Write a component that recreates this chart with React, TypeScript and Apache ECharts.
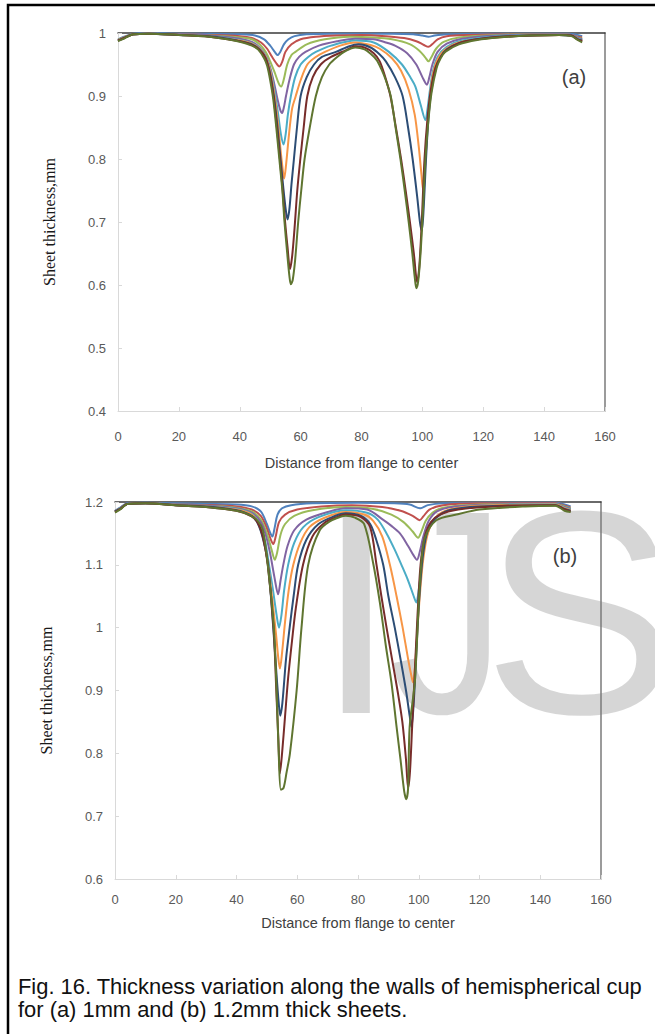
import React, { useEffect, useRef } from "react";
import * as echarts from "echarts";

// ---------- data: chart (a) 1mm sheet ----------
const A_BLUE = [[0,0.99],[2,0.994],[5,0.999],[10,1.0],[20,0.999],[30,0.999],[40,0.998],[45,0.996],[48,0.99],[50,0.98],[51.5,0.97],[52.4,0.965],[53.3,0.97],[54.5,0.982],[56,0.99],[58,0.995],[62,0.998],[70,0.999],[80,0.999],[90,0.999],[97,0.998],[100,0.996],[102,0.994],[104,0.996],[108,0.998],[120,0.999],[135,0.999],[148,0.999],[151,0.997],[152.5,0.995]];
const A_RED = [[0,0.989],[2,0.993],[5,0.998],[10,0.999],[20,0.998],[30,0.997],[40,0.995],[44,0.992],[47,0.985],[49,0.975],[50.5,0.963],[52,0.952],[53,0.947],[54,0.955],[55,0.97],[57,0.982],[60,0.99],[65,0.994],[72,0.996],[80,0.997],[88,0.995],[94,0.992],[98,0.987],[100.5,0.981],[102,0.978],[103.2,0.982],[105,0.99],[108,0.995],[115,0.997],[130,0.998],[145,0.998],[149,0.997],[151,0.994],[152.5,0.993]];
const A_GREEN = [[0,0.989],[2,0.993],[5,0.998],[10,0.999],[20,0.998],[30,0.996],[40,0.993],[44,0.99],[46.5,0.982],[48.5,0.97],[50,0.955],[51.5,0.937],[52.8,0.92],[53.6,0.915],[54.4,0.925],[55.6,0.95],[57,0.965],[58.3,0.97],[62,0.982],[68,0.99],[76,0.994],[84,0.993],[90,0.99],[96,0.982],[99,0.972],[101,0.961],[102,0.955],[103,0.962],[104.5,0.975],[107,0.986],[112,0.993],[125,0.997],[145,0.998],[149,0.997],[151,0.993],[152.5,0.991]];
const A_PURPLE = [[0,0.988],[2,0.992],[5,0.998],[10,0.999],[20,0.998],[30,0.996],[40,0.991],[44,0.986],[46.5,0.977],[48.5,0.964],[50,0.945],[51.3,0.92],[52.5,0.893],[53.3,0.878],[53.9,0.873],[54.5,0.882],[55.2,0.9],[56.3,0.925],[57.8,0.95],[59.5,0.962],[61.6,0.97],[66,0.98],[72,0.987],[78,0.991],[84,0.99],[88,0.985],[91,0.98],[95,0.968],[98,0.95],[100,0.93],[101.5,0.918],[102.3,0.93],[103.3,0.95],[105,0.97],[108,0.983],[113,0.991],[125,0.996],[145,0.998],[149,0.997],[151,0.992],[152.5,0.99]];
const A_AQUA = [[0,0.988],[2,0.992],[5,0.998],[10,0.999],[20,0.997],[30,0.995],[40,0.989],[44,0.984],[46.5,0.976],[48.5,0.963],[50,0.942],[51.3,0.912],[52.5,0.875],[53.5,0.84],[54.4,0.823],[55.1,0.84],[55.8,0.87],[56.8,0.9],[58.2,0.93],[60,0.95],[62.5,0.962],[65,0.97],[70,0.98],[78,0.988],[84,0.985],[89,0.97],[93.3,0.95],[96,0.93],[97.7,0.915],[99.5,0.885],[101,0.862],[101.7,0.88],[102.5,0.91],[103.5,0.94],[105,0.962],[108,0.978],[113,0.988],[125,0.995],[145,0.997],[149,0.996],[151,0.991],[152.5,0.989]];
const A_ORANGE = [[0,0.988],[2,0.992],[5,0.998],[10,0.999],[20,0.997],[30,0.995],[40,0.988],[44,0.983],[46.5,0.975],[48.5,0.962],[50,0.94],[51.3,0.905],[52.5,0.86],[53.5,0.81],[54.2,0.78],[54.6,0.769],[55.2,0.79],[56.2,0.84],[57.2,0.88],[58.4,0.9],[60,0.925],[62.2,0.95],[65,0.962],[68,0.97],[73,0.98],[78,0.985],[83,0.981],[86,0.975],[90,0.96],[93,0.94],[95.5,0.91],[97.5,0.87],[98.8,0.82],[99.7,0.775],[100.2,0.752],[100.8,0.78],[101.5,0.84],[102.3,0.89],[103.3,0.93],[104.7,0.955],[107,0.972],[112,0.985],[120,0.991],[135,0.996],[147,0.997],[149.5,0.995],[151,0.99],[152.5,0.988]];
const A_DBLUE = [[0,0.988],[2,0.992],[5,0.998],[10,0.999],[20,0.997],[30,0.995],[36,0.991],[40,0.987],[44,0.982],[46.5,0.974],[48.5,0.96],[50,0.935],[51.2,0.9],[52.3,0.855],[53.3,0.805],[54.3,0.755],[55.1,0.72],[55.7,0.704],[56.3,0.72],[57,0.76],[57.8,0.8],[58.8,0.85],[60,0.9],[62,0.93],[64.4,0.95],[67,0.962],[71.6,0.97],[76,0.979],[79,0.982],[83,0.977],[86,0.966],[88,0.955],[91,0.93],[93.5,0.9],[95.3,0.85],[96.8,0.8],[98.3,0.74],[99.2,0.7],[99.8,0.686],[100.4,0.72],[101.2,0.8],[102,0.865],[103,0.91],[104.5,0.945],[106,0.962],[108,0.974],[112,0.984],[118,0.99],[130,0.995],[145,0.997],[149,0.996],[151,0.99],[152.5,0.988]];
const A_DRED = [[0,0.988],[2,0.992],[5,0.998],[10,0.999],[20,0.997],[30,0.994],[36,0.99],[40,0.987],[44,0.981],[46.5,0.973],[48.5,0.96],[50,0.932],[51.2,0.895],[52.2,0.85],[53.2,0.8],[54.1,0.75],[54.9,0.7],[55.7,0.66],[56.5,0.625],[57.2,0.645],[58,0.69],[58.9,0.75],[59.9,0.8],[61,0.85],[62.2,0.9],[64,0.93],[66.6,0.95],[70,0.962],[74.6,0.972],[78,0.979],[81,0.977],[84,0.968],[86,0.955],[87.8,0.93],[89.5,0.9],[91.3,0.85],[93,0.8],[94.5,0.75],[95.9,0.7],[97.2,0.65],[98.3,0.604],[99,0.63],[99.8,0.7],[100.7,0.8],[101.7,0.865],[102.8,0.91],[104.3,0.945],[106,0.962],[108,0.973],[112,0.984],[118,0.99],[125,0.994],[135,0.996],[145,0.997],[149,0.996],[151,0.99],[152.5,0.987]];
const A_DGREEN = [[0,0.987],[2,0.991],[5,0.998],[10,0.999],[20,0.997],[30,0.994],[36,0.99],[40,0.986],[44,0.98],[46,0.974],[48,0.96],[49,0.948],[50,0.925],[51,0.895],[52,0.85],[53,0.8],[54,0.75],[54.7,0.7],[55.6,0.65],[56.3,0.615],[56.8,0.601],[57.4,0.608],[58.2,0.64],[59.2,0.7],[60.2,0.75],[61.3,0.8],[63,0.85],[65,0.9],[67,0.93],[69.4,0.95],[72,0.962],[75,0.972],[78,0.977],[81,0.974],[83,0.967],[85,0.957],[86.5,0.943],[88,0.925],[89.6,0.9],[91.2,0.85],[92.8,0.8],[94.2,0.75],[95.5,0.7],[96.7,0.65],[97.5,0.612],[98,0.595],[98.6,0.605],[99.4,0.65],[100.2,0.72],[101,0.8],[102,0.862],[103,0.905],[104.7,0.945],[106,0.96],[107.5,0.97],[112,0.982],[118,0.989],[125,0.993],[135,0.996],[145,0.997],[149,0.995],[151,0.989],[152.5,0.985]];

// ---------- data: chart (b) 1.2mm sheet ----------
const B_BLUE = [[0,1.186],[2,1.192],[4,1.198],[10,1.199],[20,1.198],[30,1.197],[40,1.196],[45,1.193],[48,1.185],[50,1.165],[51,1.152],[51.8,1.145],[52.6,1.16],[53.5,1.18],[55,1.19],[58,1.195],[65,1.198],[80,1.199],[92,1.198],[97,1.196],[100.5,1.19],[103,1.195],[108,1.198],[125,1.199],[145,1.199],[148,1.196],[150,1.193]];
const B_RED = [[0,1.185],[2,1.191],[4,1.197],[10,1.198],[20,1.196],[30,1.195],[40,1.193],[45,1.188],[48,1.178],[50,1.158],[51.3,1.14],[52.1,1.133],[52.9,1.145],[54,1.168],[56,1.18],[60,1.188],[68,1.193],[78,1.195],[88,1.192],[94,1.186],[98,1.178],[100.3,1.171],[101.5,1.177],[103.5,1.188],[108,1.195],[120,1.198],[145,1.198],[148,1.194],[150,1.191]];
const B_GREEN = [[0,1.185],[2,1.191],[4,1.197],[10,1.198],[20,1.196],[30,1.194],[40,1.191],[45,1.185],[48,1.172],[50,1.15],[51.5,1.125],[52.6,1.108],[53.4,1.12],[54.5,1.148],[56,1.165],[59,1.178],[65,1.187],[76,1.192],[85,1.189],[91,1.18],[95,1.168],[98,1.153],[99.8,1.143],[100.8,1.152],[102.3,1.17],[104.5,1.183],[108,1.191],[120,1.196],[145,1.197],[148,1.193],[150,1.19]];
const B_PURPLE = [[0,1.185],[2,1.191],[4,1.197],[10,1.198],[20,1.196],[30,1.194],[40,1.19],[45,1.183],[48,1.168],[49.5,1.15],[51,1.12],[52.5,1.08],[53.7,1.053],[54.5,1.075],[55.4,1.1],[56.8,1.13],[59,1.155],[63,1.172],[70,1.184],[76,1.19],[83,1.188],[88.2,1.172],[91,1.162],[93.8,1.15],[96.5,1.13],[98.3,1.115],[99.4,1.108],[100.3,1.12],[101.5,1.145],[103.3,1.17],[106,1.185],[112,1.193],[125,1.196],[145,1.197],[148,1.192],[150,1.189]];
const B_AQUA = [[0,1.185],[2,1.191],[4,1.197],[10,1.198],[20,1.195],[30,1.193],[40,1.189],[45,1.181],[47.5,1.165],[49.3,1.14],[50.7,1.1],[52,1.06],[53.2,1.02],[54,1.0],[54.8,1.02],[55.7,1.06],[57,1.1],[59,1.135],[62,1.16],[67,1.176],[76,1.187],[83,1.183],[86.5,1.172],[89.4,1.15],[92,1.125],[94.3,1.1],[96.5,1.075],[98.2,1.052],[99.2,1.04],[100,1.06],[101,1.1],[102.3,1.14],[104.5,1.168],[108,1.183],[115,1.192],[130,1.196],[145,1.197],[148,1.191],[150,1.188]];
const B_ORANGE = [[0,1.185],[2,1.19],[4,1.197],[10,1.198],[20,1.195],[30,1.193],[40,1.188],[45,1.18],[47.3,1.165],[48.9,1.14],[50.4,1.1],[51.9,1.04],[53,0.99],[53.8,0.95],[54.3,0.935],[55,0.96],[56,1.01],[57.2,1.06],[58.7,1.1],[61,1.135],[64,1.16],[69,1.175],[76,1.184],[82,1.18],[85,1.17],[88,1.145],[90.5,1.1],[92.7,1.05],[94.7,1.0],[96.5,0.95],[97.5,0.925],[98.1,0.913],[98.8,0.94],[99.6,1.0],[100.5,1.06],[101.5,1.11],[103,1.15],[105.5,1.175],[110,1.188],[120,1.194],[145,1.196],[148,1.19],[150,1.187]];
const B_DBLUE = [[0,1.185],[2,1.19],[4,1.197],[10,1.198],[20,1.195],[30,1.193],[40,1.187],[45,1.178],[47.1,1.165],[48.8,1.14],[50.4,1.1],[52.1,1.0],[53.1,0.93],[53.9,0.88],[54.4,0.86],[55.1,0.88],[56.3,0.95],[57.5,1.0],[58.8,1.05],[60.3,1.1],[63,1.14],[67,1.165],[72,1.177],[76,1.182],[81,1.178],[84,1.165],[86,1.14],[88.3,1.1],[90,1.05],[92.1,1.0],[94,0.95],[95.8,0.9],[97,0.86],[97.6,0.842],[98.2,0.87],[98.8,0.92],[99.6,1.0],[100.5,1.07],[101.5,1.12],[103,1.155],[105.5,1.174],[110,1.187],[120,1.193],[145,1.195],[148,1.189],[150,1.186]];
const B_DRED = [[0,1.184],[2,1.19],[4,1.197],[10,1.198],[20,1.195],[30,1.192],[40,1.186],[45,1.177],[47,1.167],[48.7,1.145],[50.3,1.1],[52.2,1.0],[53.1,0.9],[53.8,0.82],[54.3,0.768],[55,0.8],[56,0.86],[57,0.92],[58.3,0.98],[59.5,1.03],[61.9,1.1],[65,1.145],[69,1.167],[73,1.176],[76,1.18],[81,1.176],[84,1.16],[86.1,1.1],[87.7,1.05],[89.4,1.0],[91.2,0.95],[93,0.9],[94.6,0.85],[95.8,0.79],[96.5,0.745],[97.1,0.77],[97.8,0.84],[98.6,0.92],[99.6,1.02],[100.6,1.1],[102,1.145],[104,1.168],[107,1.18],[113,1.188],[125,1.193],[145,1.195],[148,1.188],[150,1.185]];
const B_DGREEN = [[0,1.183],[2,1.189],[4,1.197],[10,1.198],[20,1.195],[30,1.192],[40,1.186],[44,1.18],[47,1.17],[48.7,1.155],[50.3,1.1],[52.3,1.0],[53.2,0.9],[53.9,0.8],[54.6,0.742],[55.5,0.745],[56.5,0.77],[57.6,0.8],[59.8,0.9],[61.4,1.0],[63.6,1.1],[67.4,1.155],[71,1.17],[74,1.176],[76,1.178],[79,1.175],[82,1.165],[84.9,1.105],[87.2,1.04],[89.2,0.97],[91,0.913],[92.7,0.842],[94,0.79],[95.2,0.74],[95.9,0.727],[96.5,0.745],[97,0.842],[98.7,0.913],[100,1.04],[100.9,1.105],[102,1.143],[105.8,1.171],[112.4,1.18],[120,1.188],[135,1.193],[145,1.194],[148,1.186],[150,1.184]];

const SERIES_A = [A_BLUE, A_RED, A_GREEN, A_PURPLE, A_AQUA, A_ORANGE, A_DBLUE, A_DRED, A_DGREEN];
const SERIES_B = [B_BLUE, B_RED, B_GREEN, B_PURPLE, B_AQUA, B_ORANGE, B_DBLUE, B_DRED, B_DGREEN];
const SERIES_NAMES = ["s1", "s2", "s3", "s4", "s5", "s6", "s7", "s8", "s9"];
const COLORS = ["#4F81BD", "#C0504D", "#9BBB59", "#8064A2", "#4BACC6", "#F79646", "#2C4D75", "#772C2A", "#5F7530"];

const X_TITLE = "Distance from flange to center";
const Y_TITLE = "Sheet thickness,mm";
const PANEL_LABELS = ["(a)", "(b)"];
const WATERMARK = ["I", "J", "S"];
const CAPTION_1 = "Fig. 16. Thickness variation along the walls of hemispherical cup";
const CAPTION_2 = "for (a) 1mm and (b) 1.2mm thick sheets.";

const GRIDS = [
  { left: 118, top: 33, width: 487, height: 378, ymin: 0.4, ymax: 1.0, labelMargin: 18.5, nameGap: 44 },
  { left: 115, top: 502, width: 486, height: 377, ymin: 0.6, ymax: 1.2, labelMargin: 14, nameGap: 36 },
];

const SANS = "Liberation Sans, Arial, sans-serif";

export default function App() {
  const ref = useRef<HTMLDivElement>(null);
  useEffect(() => {
    document.body.style.margin = "0";
    const chart = echarts.init(ref.current!, null, { renderer: "svg" });
    const lightAxis = "#d9d9d9";
    const labelStyle = { color: "#595959", fontSize: 13, fontFamily: SANS };
    const xAxis: any[] = [];
    const yAxis: any[] = [];
    GRIDS.forEach((g, i) => {
      xAxis.push({
        gridIndex: i, type: "value", min: 0, max: 160, interval: 20,
        name: X_TITLE, nameLocation: "middle", nameGap: g.nameGap,
        nameTextStyle: { color: "#404040", fontSize: 14.5, fontFamily: SANS },
        axisLine: { onZero: false, lineStyle: { color: lightAxis, width: 1 } },
        axisTick: { inside: true, length: 4, lineStyle: { color: lightAxis } },
        axisLabel: { ...labelStyle, margin: g.labelMargin },
        splitLine: { show: false },
      });
      xAxis.push({
        gridIndex: i, type: "value", min: 0, max: 160, position: "top",
        axisLine: { onZero: false, lineStyle: { color: "#3a3a3a", width: 1.5 } },
        axisTick: { show: false }, axisLabel: { show: false }, splitLine: { show: false },
      });
      yAxis.push({
        gridIndex: i, type: "value", min: g.ymin, max: g.ymax, interval: 0.1,
        name: Y_TITLE, nameLocation: "middle", nameGap: 61, nameRotate: 90,
        nameTextStyle: { color: "#1a1a1a", fontSize: 16, fontFamily: "Liberation Serif, Times New Roman, serif" },
        axisLine: { show: true, onZero: false, lineStyle: { color: lightAxis, width: 1 } },
        axisTick: { show: true, inside: true, length: 4, lineStyle: { color: lightAxis } },
        axisLabel: { ...labelStyle, margin: 12 },
        splitLine: { show: false },
      });
      yAxis.push({
        gridIndex: i, type: "value", min: g.ymin, max: g.ymax, position: "right",
        axisLine: { show: true, onZero: false, lineStyle: { color: "#7a7a7a", width: 1.5 } },
        axisTick: { show: false }, axisLabel: { show: false }, splitLine: { show: false },
      });
    });
    const series: any[] = [];
    [SERIES_A, SERIES_B].forEach((set, gi) => {
      set.forEach((data, k) => {
        series.push({
          type: "line", name: SERIES_NAMES[k] + (gi ? "b" : "a"),
          xAxisIndex: gi * 2, yAxisIndex: gi * 2,
          data, showSymbol: false, smooth: 0.3,
          lineStyle: { color: COLORS[k], width: 2 }, itemStyle: { color: COLORS[k] },
          z: 3,
        });
      });
    });
    const wmStyle = { fontSize: 290, lineHeight: 200, fontFamily: SANS, fill: "rgba(200,200,200,0.75)", verticalAlign: "middle" };
    chart.setOption({
      animation: false,
      backgroundColor: "#ffffff",
      grid: GRIDS.map((g) => ({ left: g.left, top: g.top, width: g.width, height: g.height, containLabel: false })),
      xAxis, yAxis, series,
      graphic: [
        { type: "text", z: 0, x: 316, y: 612, silent: true, style: { ...wmStyle, text: WATERMARK[0] } },
        { type: "text", z: 0, x: 390, y: 612, scaleX: 0.8, silent: true, style: { ...wmStyle, text: WATERMARK[1] } },
        { type: "text", z: 0, x: 483, y: 612, silent: true, style: { ...wmStyle, text: WATERMARK[2] } },
        { type: "rect", z: 10, shape: { x: 8, y: 5, width: 660, height: 1040 }, silent: true,
          style: { fill: "none", stroke: "#000", lineWidth: 2.5 } },
        { type: "text", z: 10, x: 574, y: 77, style: { text: PANEL_LABELS[0], fontSize: 20, fontFamily: SANS, fill: "#404040", align: "center", verticalAlign: "middle" } },
        { type: "text", z: 10, x: 565, y: 556, style: { text: PANEL_LABELS[1], fontSize: 20, fontFamily: SANS, fill: "#404040", align: "center", verticalAlign: "middle" } },
        { type: "text", z: 10, x: 18, y: 986, style: { text: CAPTION_1, fontSize: 21.9, fontFamily: SANS, fill: "#111", align: "left", verticalAlign: "middle" } },
        { type: "text", z: 10, x: 18, y: 1009, style: { text: CAPTION_2, fontSize: 21.9, fontFamily: SANS, fill: "#111", align: "left", verticalAlign: "middle" } },
      ],
    });
    return () => chart.dispose();
  }, []);
  return <div ref={ref} style={{ position: "absolute", left: 0, top: 0, width: 655, height: 1034 }} />;
}
